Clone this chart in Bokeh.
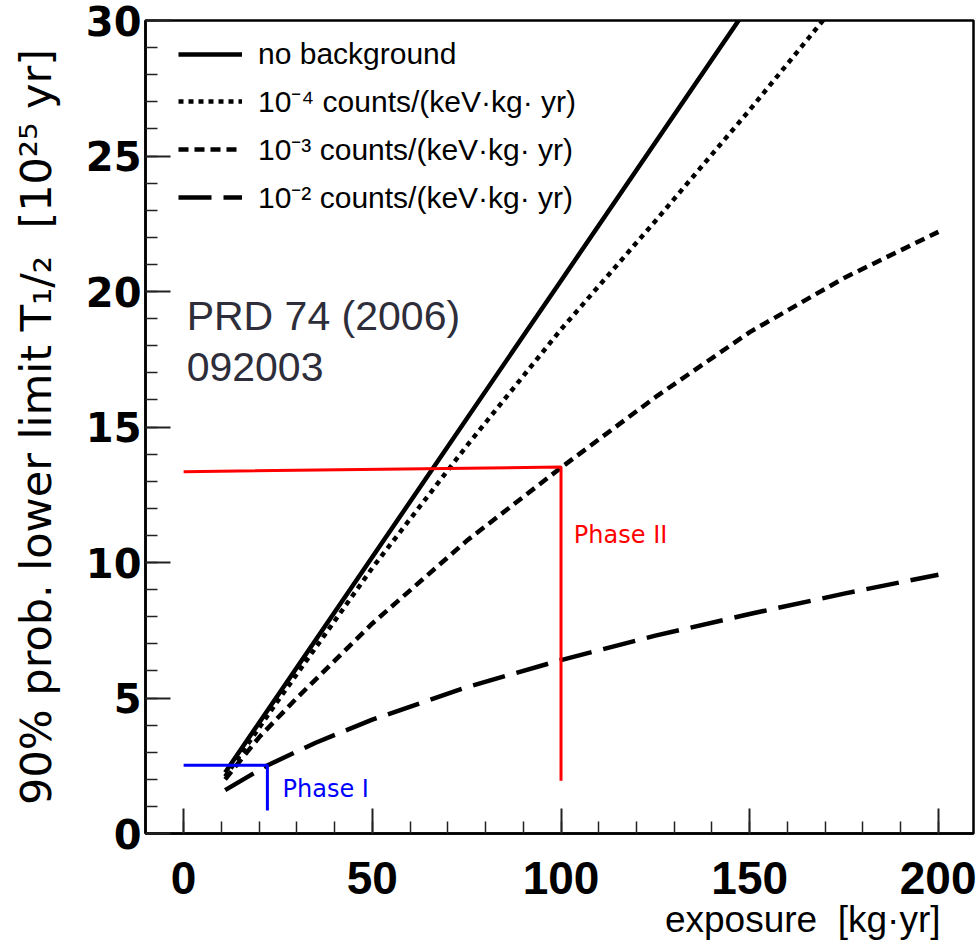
from bokeh.plotting import figure
from bokeh.models import Range1d, SingleIntervalTicker, Label, Legend, LegendItem, Title
from bokeh.embed import file_html
from bokeh.resources import INLINE

# ---- data ----
exposure_nobg = [11, 50, 100, 150]
t_nobg = [2.25, 10.2, 20.4, 30.6]

exposure_1e4 = [11, 25, 50, 75, 100, 125, 150, 170]
t_1e4 = [2.1, 4.9, 9.8, 14.3, 18.6, 22.6, 26.7, 30.1]

exposure_1e3 = [11, 20, 30, 50, 75, 100, 125, 150, 175, 200]
t_1e3 = [2.0, 3.55, 5.0, 7.75, 10.8, 13.5, 16.1, 18.5, 20.5, 22.2]

exposure_1e2 = [11, 22, 35, 50, 75, 100, 125, 150, 175, 200]
t_1e2 = [1.6, 2.5, 3.35, 4.2, 5.4, 6.4, 7.3, 8.1, 8.85, 9.55]

phase1_x = [0, 22.2, 22.2]
phase1_y = [2.52, 2.52, 0.85]
phase2_x = [0, 100, 100]
phase2_y = [13.35, 13.52, 1.95]

legend_labels = ["no background",
                 "10\u207b\u2074 counts/(keV\u00b7kg\u00b7 yr)",
                 "10\u207b\u00b3 counts/(keV\u00b7kg\u00b7 yr)",
                 "10\u207b\u00b2 counts/(keV\u00b7kg\u00b7 yr)"]

p = figure(width=976, height=944, output_backend="svg", toolbar_location=None,
           x_range=Range1d(-10.1, 209.3), y_range=Range1d(0, 30),
           min_border_left=145, min_border_right=3, min_border_top=20,
           min_border_bottom=111)
p.xgrid.visible = False
p.ygrid.visible = False
p.outline_line_color = "black"
p.outline_line_width = 2.5
p.background_fill_color = "white"
p.border_fill_color = "white"

p.xaxis.ticker = SingleIntervalTicker(interval=50, num_minor_ticks=5)
p.yaxis.ticker = SingleIntervalTicker(interval=5, num_minor_ticks=5)
for ax in (p.xaxis[0], p.yaxis[0]):
    ax.major_tick_in = 25
    ax.major_tick_out = 0
    ax.minor_tick_in = 12
    ax.minor_tick_out = 0
    ax.major_tick_line_width = 2
    ax.minor_tick_line_width = 1.5
    ax.major_tick_line_color = "#222222"
    ax.minor_tick_line_color = "#222222"
    ax.axis_line_width = 2.5
    ax.major_label_text_color = "black"

xax = p.xaxis[0]
xax.major_label_text_font = "Liberation Sans"
xax.major_label_text_font_style = "bold"
xax.major_label_text_font_size = "46px"
xax.major_label_standoff = 28

yax = p.yaxis[0]
yax.major_label_text_font = "DejaVu Sans"
yax.major_label_text_font_style = "bold"
yax.major_label_text_font_size = "40px"
yax.major_label_standoff = 4
yax.axis_label = "90% prob. lower limit T\u2081/\u2082\u00a0 [10\u00b2\u2075 yr]"
yax.axis_label_text_font = "DejaVu Sans"
yax.axis_label_text_font_style = "normal"
yax.axis_label_text_font_size = "43px"
yax.axis_label_text_color = "black"
yax.axis_label_standoff = 22

# x-axis title, right aligned near the end of the axis
p.add_layout(Title(text="exposure\u00a0 [kg\u00b7yr]", align="right", offset=33,
                   standoff=0, text_font="Liberation Sans",
                   text_font_size="37px", text_font_style="normal",
                   text_color="black"), "below")

# ---- curves ----
r1 = p.line(exposure_nobg, t_nobg, line_color="black", line_width=4.5)
r2 = p.line(exposure_1e4, t_1e4, line_color="black", line_width=4.5, line_dash="5 5")
r3 = p.line(exposure_1e3, t_1e3, line_color="black", line_width=4.5, line_dash="10 6")
r4 = p.line(exposure_1e2, t_1e2, line_color="black", line_width=4.5, line_dash="33 12")

p.line(phase1_x, phase1_y, line_color="#0000ff", line_width=3)
p.line(phase2_x, phase2_y, line_color="#ff0000", line_width=3)

p.add_layout(Label(x=26.2, y=1.66, text="Phase I", text_font="DejaVu Sans",
                   text_font_size="24px", text_color="#0000ff",
                   text_baseline="middle", text_align="left"))
p.add_layout(Label(x=103.4, y=11.0, text="Phase II", text_font="DejaVu Sans",
                   text_font_size="24px", text_color="#ff0000",
                   text_baseline="middle", text_align="left"))

p.add_layout(Label(x=0.8, y=19.11, text="PRD 74 (2006)", text_font="Liberation Sans",
                   text_font_size="41px", text_color="#2e2e3a",
                   text_baseline="alphabetic", text_align="left"))
p.add_layout(Label(x=0.8, y=17.2, text="092003", text_font="Liberation Sans",
                   text_font_size="41px", text_color="#2e2e3a",
                   text_baseline="alphabetic", text_align="left"))

legend = Legend(items=[LegendItem(label=legend_labels[0], renderers=[r1]),
                       LegendItem(label=legend_labels[1], renderers=[r2]),
                       LegendItem(label=legend_labels[2], renderers=[r3]),
                       LegendItem(label=legend_labels[3], renderers=[r4])],
                location=(28, 611), orientation="vertical",
                border_line_alpha=0, background_fill_alpha=0,
                label_text_font="Liberation Sans", label_text_font_size="30px",
                label_text_color="black",
                glyph_width=64, glyph_height=38, label_height=38,
                spacing=7, padding=5, margin=0, label_standoff=16)
p.add_layout(legend)

open("out.html", "w").write(file_html(p, INLINE))
